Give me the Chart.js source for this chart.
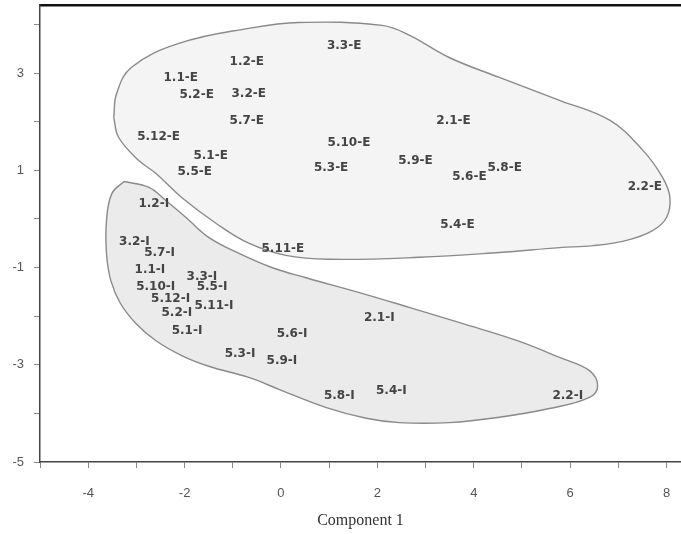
<!DOCTYPE html>
<html>
<head>
<meta charset="utf-8">
<script src="https://cdn.jsdelivr.net/npm/chart.js@4"></script>
<style>
  body { margin: 0; background: #fff; }
  #wrap { width: 681px; height: 534px; }
</style>
</head>
<body>
<div id="wrap"><canvas id="pcaChart"></canvas></div>
<script>
// group E labels and scores
const labelsE = ['3.3-E', '1.2-E', '1.1-E', '5.2-E', '3.2-E', '5.7-E', '5.12-E', '5.1-E', '5.5-E',
                 '5.10-E', '5.3-E', '2.1-E', '5.9-E', '5.6-E', '5.8-E', '2.2-E', '5.4-E', '5.11-E'];
const xE = [1.31, -0.71, -2.08, -1.75, -0.67, -0.71, -2.54, -1.46, -1.79,
            1.41, 1.04, 3.58, 2.79, 3.91, 4.64, 7.55, 3.66, 0.04];
const yE = [3.55, 3.22, 2.91, 2.56, 2.58, 2.01, 1.68, 1.29, 0.96,
            1.57, 1.06, 2.01, 1.20, 0.87, 1.06, 0.65, -0.13, -0.61];

// group I labels and scores
const labelsI = ['1.2-I', '3.2-I', '5.7-I', '1.1-I', '3.3-I', '5.5-I', '5.10-I', '5.12-I', '5.11-I',
                 '5.2-I', '5.1-I', '5.6-I', '2.1-I', '5.3-I', '5.9-I', '5.8-I', '5.4-I', '2.2-I'];
const xI = [-2.64, -3.04, -2.52, -2.72, -1.64, -1.43, -2.60, -2.29, -1.39,
            -2.16, -1.95, 0.23, 2.04, -0.85, 0.02, 1.21, 2.29, 5.95];
const yI = [0.30, -0.48, -0.69, -1.04, -1.20, -1.39, -1.39, -1.64, -1.78,
            -1.94, -2.31, -2.36, -2.03, -2.77, -2.91, -3.63, -3.53, -3.63];

// outlines of the two hand drawn groups
const blobEx = [-3.47, -3.41, -3.10, -2.12, -0.67, 0.37, 2.10, 2.66, 3.49, 4.53, 5.78, 6.82, 7.51, 7.92, 8.07,
                8.00, 7.71, 7.17, 6.47, 5.78, 4.53, 2.87, 1.00, 0.10, -0.67, -1.35, -2.06, -2.60, -2.95, -3.37, -3.47];
const blobEy = [2.09, 2.58, 3.12, 3.61, 3.92, 4.04, 3.98, 3.78, 3.32, 2.91, 2.44, 2.03, 1.41, 0.85, 0.44,
                0.03, -0.24, -0.44, -0.55, -0.59, -0.69, -0.79, -0.83, -0.75, -0.50, -0.09, 0.44, 0.94, 1.20, 1.68, 2.09];
const blobIx = [-3.26, -2.74, -2.39, -1.97, -1.50, -0.87, -0.19, 0.52, 1.68, 2.66, 3.76, 4.89, 5.78, 6.40, 6.57,
                6.40, 5.57, 4.53, 3.49, 2.45, 1.77, 0.94, 0.02, -0.67, -1.50, -2.06, -2.60, -3.01, -3.33,
                -3.53, -3.62, -3.62, -3.51, -3.26];
const blobIy = [0.77, 0.65, 0.38, 0.03, -0.38, -0.71, -1.00, -1.21, -1.53, -1.82, -2.15, -2.50, -2.85, -3.12, -3.43,
                -3.67, -3.90, -4.08, -4.19, -4.19, -4.10, -3.88, -3.53, -3.26, -3.03, -2.81, -2.50, -2.15, -1.74,
                -1.27, -0.71, -0.03, 0.52, 0.77];

const xRange = [-5, 8.3];
const yRange = [-5, 4.4];

function toPoints(xs, ys) {
    return xs.map((x, i) => ({ x: x, y: ys[i] }));
}

// writes each sample name at its point
const pointLabels = {
    id: 'pointLabels',
    afterDatasetsDraw(chart) {
        const ctx = chart.ctx;
        ctx.save();
        ctx.font = 'bold 12px "DejaVu Sans"';
        ctx.fillStyle = '#444';
        ctx.textAlign = 'center';
        ctx.textBaseline = 'middle';
        chart.data.datasets.forEach((ds, di) => {
            if (!ds.names) return;
            chart.getDatasetMeta(di).data.forEach((pt, i) => {
                ctx.fillText(ds.names[i], pt.x, pt.y);
            });
        });
        ctx.restore();
    }
};

const tickFont = { family: 'Liberation Sans', size: 13 };

new Chart(document.getElementById('pcaChart'), {
    type: 'scatter',
    data: {
        datasets: [
            { label: 'E', names: labelsE, data: toPoints(xE, yE), pointRadius: 0 },
            { label: 'I', names: labelsI, data: toPoints(xI, yI), pointRadius: 0 },
            { label: 'groupE', data: toPoints(blobEx, blobEy), showLine: true, tension: 0.4, pointRadius: 0,
              borderColor: '#8a8a8a', borderWidth: 1.4, backgroundColor: '#f4f4f4', fill: 'shape' },
            { label: 'groupI', data: toPoints(blobIx, blobIy), showLine: true, tension: 0.4, pointRadius: 0,
              borderColor: '#8a8a8a', borderWidth: 1.4, backgroundColor: '#ebebeb', fill: 'shape' }
        ]
    },
    options: {
        responsive: true,
        maintainAspectRatio: false,
        animation: false,
        layout: { padding: 0 },
        plugins: { legend: { display: false }, tooltip: { enabled: false } },
        scales: {
            x: {
                type: 'linear',
                min: xRange[0], max: xRange[1],
                grid: { drawOnChartArea: false, drawTicks: true, tickLength: 6, color: '#888' },
                border: { display: true, color: '#444', width: 1.5 },
                ticks: {
                    stepSize: 1, includeBounds: false, padding: 18, maxRotation: 0, autoSkip: false,
                    color: '#555', font: tickFont,
                    callback: v => (v % 2 === 0 ? String(v) : '')
                },
                title: { display: true, text: 'Component 1', color: '#333',
                         font: { family: 'Liberation Serif', size: 16 }, padding: { top: 4, bottom: 4 } },
                afterFit: s => { s.height = 72; s.paddingLeft = 0; s.paddingRight = 0; }
            },
            xTop: {
                type: 'linear', position: 'top',
                min: xRange[0], max: xRange[1],
                grid: { display: false },
                ticks: { display: false },
                border: { display: true, color: '#111', width: 2.5 },
                afterFit: s => { s.height = 5; s.paddingLeft = 0; s.paddingRight = 0; }
            },
            y: {
                type: 'linear',
                min: yRange[0], max: yRange[1],
                grid: { drawOnChartArea: false, drawTicks: true, tickLength: 6, color: '#888' },
                border: { display: true, color: '#444', width: 1.5 },
                ticks: {
                    stepSize: 1, includeBounds: false, padding: 10, autoSkip: false,
                    color: '#555', font: tickFont,
                    callback: v => (Math.abs(v) % 2 === 1 ? String(v) : '')
                },
                afterFit: s => { s.width = 40; s.paddingTop = 0; s.paddingBottom = 0; }
            }
        }
    },
    plugins: [pointLabels]
});
</script>
</body>
</html>
